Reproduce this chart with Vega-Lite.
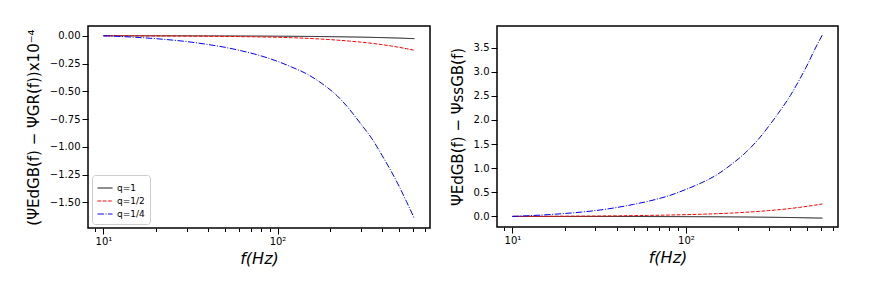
{
  "$schema": "https://vega.github.io/schema/vega-lite/v6.json",
  "padding": {"left": 25, "top": 25, "right": 5, "bottom": 5},
  "config": {
    "font": "DejaVu Sans",
    "view": {"stroke": "black", "strokeWidth": 1.5},
    "axis": {"domain": false, "grid": false, "tickColor": "black", "tickWidth": 1, "labelColor": "black", "labelFontSize": 10, "labelFont": "DejaVu Sans", "titleFont": "DejaVu Sans", "titleColor": "black", "titleFontWeight": "normal"}
  },
  "datasets": {
    "left": [
      {"f": 10, "q": "q=1", "v": 0}, {"f": 12, "q": "q=1", "v": -0.0001}, {"f": 15, "q": "q=1", "v": -0.0002}, {"f": 20, "q": "q=1", "v": -0.0004}, {"f": 25, "q": "q=1", "v": -0.0006}, {"f": 30, "q": "q=1", "v": -0.0008}, {"f": 40, "q": "q=1", "v": -0.0012}, {"f": 50, "q": "q=1", "v": -0.0016}, {"f": 60, "q": "q=1", "v": -0.002}, {"f": 70, "q": "q=1", "v": -0.0024}, {"f": 80, "q": "q=1", "v": -0.0028}, {"f": 100, "q": "q=1", "v": -0.0037}, {"f": 120, "q": "q=1", "v": -0.0045}, {"f": 150, "q": "q=1", "v": -0.0058}, {"f": 180, "q": "q=1", "v": -0.007}, {"f": 220, "q": "q=1", "v": -0.0088}, {"f": 260, "q": "q=1", "v": -0.0105}, {"f": 300, "q": "q=1", "v": -0.0122}, {"f": 350, "q": "q=1", "v": -0.0143}, {"f": 400, "q": "q=1", "v": -0.0165}, {"f": 450, "q": "q=1", "v": -0.0187}, {"f": 500, "q": "q=1", "v": -0.0208}, {"f": 550, "q": "q=1", "v": -0.0232}, {"f": 612, "q": "q=1", "v": -0.026},
      {"f": 10, "q": "q=1/2", "v": 0}, {"f": 12, "q": "q=1/2", "v": -0.0003}, {"f": 15, "q": "q=1/2", "v": -0.0008}, {"f": 20, "q": "q=1/2", "v": -0.0015}, {"f": 25, "q": "q=1/2", "v": -0.0022}, {"f": 30, "q": "q=1/2", "v": -0.003}, {"f": 40, "q": "q=1/2", "v": -0.0045}, {"f": 50, "q": "q=1/2", "v": -0.006}, {"f": 60, "q": "q=1/2", "v": -0.0074}, {"f": 70, "q": "q=1/2", "v": -0.0088}, {"f": 80, "q": "q=1/2", "v": -0.0103}, {"f": 100, "q": "q=1/2", "v": -0.0135}, {"f": 120, "q": "q=1/2", "v": -0.0172}, {"f": 150, "q": "q=1/2", "v": -0.0235}, {"f": 180, "q": "q=1/2", "v": -0.03}, {"f": 220, "q": "q=1/2", "v": -0.039}, {"f": 260, "q": "q=1/2", "v": -0.048}, {"f": 300, "q": "q=1/2", "v": -0.057}, {"f": 350, "q": "q=1/2", "v": -0.068}, {"f": 400, "q": "q=1/2", "v": -0.08}, {"f": 450, "q": "q=1/2", "v": -0.092}, {"f": 500, "q": "q=1/2", "v": -0.104}, {"f": 550, "q": "q=1/2", "v": -0.116}, {"f": 612, "q": "q=1/2", "v": -0.13},
      {"f": 10, "q": "q=1/4", "v": 0}, {"f": 12, "q": "q=1/4", "v": -0.005}, {"f": 15, "q": "q=1/4", "v": -0.013}, {"f": 20, "q": "q=1/4", "v": -0.026}, {"f": 25, "q": "q=1/4", "v": -0.039}, {"f": 30, "q": "q=1/4", "v": -0.052}, {"f": 40, "q": "q=1/4", "v": -0.079}, {"f": 50, "q": "q=1/4", "v": -0.104}, {"f": 60, "q": "q=1/4", "v": -0.13}, {"f": 70, "q": "q=1/4", "v": -0.155}, {"f": 80, "q": "q=1/4", "v": -0.18}, {"f": 100, "q": "q=1/4", "v": -0.23}, {"f": 120, "q": "q=1/4", "v": -0.28}, {"f": 150, "q": "q=1/4", "v": -0.35}, {"f": 180, "q": "q=1/4", "v": -0.43}, {"f": 220, "q": "q=1/4", "v": -0.54}, {"f": 260, "q": "q=1/4", "v": -0.665}, {"f": 300, "q": "q=1/4", "v": -0.79}, {"f": 350, "q": "q=1/4", "v": -0.93}, {"f": 400, "q": "q=1/4", "v": -1.08}, {"f": 450, "q": "q=1/4", "v": -1.22}, {"f": 500, "q": "q=1/4", "v": -1.355}, {"f": 550, "q": "q=1/4", "v": -1.49}, {"f": 612, "q": "q=1/4", "v": -1.645}
    ],
    "right": [
      {"f": 10, "q": "q=1", "v": 0}, {"f": 12, "q": "q=1", "v": -0.0001}, {"f": 15, "q": "q=1", "v": -0.0003}, {"f": 20, "q": "q=1", "v": -0.0006}, {"f": 25, "q": "q=1", "v": -0.0009}, {"f": 30, "q": "q=1", "v": -0.0012}, {"f": 40, "q": "q=1", "v": -0.0018}, {"f": 50, "q": "q=1", "v": -0.0024}, {"f": 60, "q": "q=1", "v": -0.003}, {"f": 70, "q": "q=1", "v": -0.0036}, {"f": 80, "q": "q=1", "v": -0.0042}, {"f": 100, "q": "q=1", "v": -0.0054}, {"f": 120, "q": "q=1", "v": -0.0066}, {"f": 150, "q": "q=1", "v": -0.0084}, {"f": 180, "q": "q=1", "v": -0.0102}, {"f": 220, "q": "q=1", "v": -0.0126}, {"f": 260, "q": "q=1", "v": -0.015}, {"f": 300, "q": "q=1", "v": -0.0174}, {"f": 350, "q": "q=1", "v": -0.0204}, {"f": 400, "q": "q=1", "v": -0.0234}, {"f": 450, "q": "q=1", "v": -0.0264}, {"f": 500, "q": "q=1", "v": -0.0294}, {"f": 550, "q": "q=1", "v": -0.0324}, {"f": 612, "q": "q=1", "v": -0.035},
      {"f": 10, "q": "q=1/2", "v": 0}, {"f": 12, "q": "q=1/2", "v": 0.001}, {"f": 15, "q": "q=1/2", "v": 0.002}, {"f": 20, "q": "q=1/2", "v": 0.004}, {"f": 25, "q": "q=1/2", "v": 0.006}, {"f": 30, "q": "q=1/2", "v": 0.008}, {"f": 40, "q": "q=1/2", "v": 0.012}, {"f": 50, "q": "q=1/2", "v": 0.016}, {"f": 60, "q": "q=1/2", "v": 0.02}, {"f": 70, "q": "q=1/2", "v": 0.024}, {"f": 80, "q": "q=1/2", "v": 0.028}, {"f": 100, "q": "q=1/2", "v": 0.036}, {"f": 120, "q": "q=1/2", "v": 0.044}, {"f": 150, "q": "q=1/2", "v": 0.056}, {"f": 180, "q": "q=1/2", "v": 0.068}, {"f": 220, "q": "q=1/2", "v": 0.085}, {"f": 260, "q": "q=1/2", "v": 0.103}, {"f": 300, "q": "q=1/2", "v": 0.12}, {"f": 350, "q": "q=1/2", "v": 0.142}, {"f": 400, "q": "q=1/2", "v": 0.164}, {"f": 450, "q": "q=1/2", "v": 0.187}, {"f": 500, "q": "q=1/2", "v": 0.21}, {"f": 550, "q": "q=1/2", "v": 0.232}, {"f": 612, "q": "q=1/2", "v": 0.258},
      {"f": 10, "q": "q=1/4", "v": 0}, {"f": 12, "q": "q=1/4", "v": 0.012}, {"f": 15, "q": "q=1/4", "v": 0.03}, {"f": 20, "q": "q=1/4", "v": 0.06}, {"f": 25, "q": "q=1/4", "v": 0.09}, {"f": 30, "q": "q=1/4", "v": 0.12}, {"f": 40, "q": "q=1/4", "v": 0.185}, {"f": 50, "q": "q=1/4", "v": 0.25}, {"f": 60, "q": "q=1/4", "v": 0.31}, {"f": 70, "q": "q=1/4", "v": 0.37}, {"f": 80, "q": "q=1/4", "v": 0.43}, {"f": 100, "q": "q=1/4", "v": 0.56}, {"f": 120, "q": "q=1/4", "v": 0.68}, {"f": 150, "q": "q=1/4", "v": 0.86}, {"f": 180, "q": "q=1/4", "v": 1.06}, {"f": 220, "q": "q=1/4", "v": 1.32}, {"f": 260, "q": "q=1/4", "v": 1.59}, {"f": 300, "q": "q=1/4", "v": 1.87}, {"f": 350, "q": "q=1/4", "v": 2.2}, {"f": 400, "q": "q=1/4", "v": 2.51}, {"f": 450, "q": "q=1/4", "v": 2.83}, {"f": 500, "q": "q=1/4", "v": 3.14}, {"f": 550, "q": "q=1/4", "v": 3.45}, {"f": 612, "q": "q=1/4", "v": 3.77}
    ]
  },
  "spacing": 18,
  "resolve": {"scale": {"color": "independent", "strokeDash": "independent", "y": "independent"}},
  "hconcat": [
    {
      "width": 342,
      "height": 202,
      "data": {"name": "left"},
      "layer": [
        {
          "mark": {"type": "line", "strokeWidth": 1, "clip": true, "interpolate": "monotone"},
          "encoding": {
            "x": {"field": "f", "type": "quantitative", "scale": {"type": "log", "domain": [8.15, 752], "nice": false},
              "axis": {"orient": "bottom", "values": [10, 100], "labelExpr": "datum.value == 10 ? '10¹' : '10²'", "tickSize": 6, "labelPadding": 2, "title": "f(Hz)", "titleFontSize": 16, "titleFontStyle": "italic", "titlePadding": 4}},
            "y": {"field": "v", "type": "quantitative", "scale": {"domain": [-1.73, 0.088], "nice": false, "zero": false},
              "axis": {"values": [0, -0.25, -0.5, -0.75, -1, -1.25, -1.5], "format": ".2f", "labelOverlap": false, "tickSize": 6, "labelPadding": 2, "title": "(ΨEdGB(f) − ΨGR(f))x10⁻⁴", "titleFontSize": 15, "titlePadding": 8}},
            "color": {"field": "q", "type": "nominal", "scale": {"domain": ["q=1", "q=1/2", "q=1/4"], "range": ["#000000", "#ff0000", "#0000ff"]},
              "legend": {"title": null, "orient": "bottom-left", "offset": 4, "symbolType": "stroke", "symbolSize": 225, "symbolStrokeWidth": 1, "labelFontSize": 9, "labelColor": "black", "rowPadding": 0, "padding": 5, "strokeColor": "#cccccc", "fillColor": "white", "cornerRadius": 3}},
            "strokeDash": {"field": "q", "type": "nominal", "scale": {"domain": ["q=1", "q=1/2", "q=1/4"], "range": [[1, 0], [3.7, 1.6], [6.4, 1.6, 1, 1.6]]},
              "legend": {"title": null, "orient": "bottom-left", "offset": 4, "symbolType": "stroke", "symbolSize": 225, "symbolStrokeWidth": 1, "labelFontSize": 9, "labelColor": "black", "rowPadding": 0, "padding": 5, "strokeColor": "#cccccc", "fillColor": "white", "cornerRadius": 3}}
          }
        },
        {
          "mark": {"type": "rule", "opacity": 0},
          "encoding": {
            "x": {"field": "f", "type": "quantitative", "axis": {"orient": "bottom", "values": [9, 20, 30, 40, 50, 60, 70, 80, 90, 200, 300, 400, 500, 600, 700], "labels": false, "tickSize": 3.5, "title": null}}
          }
        }
      ],
      "resolve": {"axis": {"x": "independent"}}
    },
    {
      "width": 341,
      "height": 201,
      "data": {"name": "right"},
      "layer": [
        {
          "mark": {"type": "line", "strokeWidth": 1, "clip": true, "interpolate": "monotone"},
          "encoding": {
            "x": {"field": "f", "type": "quantitative", "scale": {"type": "log", "domain": [8.15, 752], "nice": false},
              "axis": {"orient": "bottom", "values": [10, 100], "labelExpr": "datum.value == 10 ? '10¹' : '10²'", "tickSize": 6, "labelPadding": 2, "title": "f(Hz)", "titleFontSize": 16, "titleFontStyle": "italic", "titlePadding": 4}},
            "y": {"field": "v", "type": "quantitative", "scale": {"domain": [-0.22, 3.95], "nice": false, "zero": false},
              "axis": {"values": [0, 0.5, 1, 1.5, 2, 2.5, 3, 3.5], "format": ".1f", "labelOverlap": false, "tickSize": 6, "labelPadding": 2, "title": "ΨEdGB(f) − ΨssGB(f)", "titleFontSize": 15, "titlePadding": 8}},
            "color": {"field": "q", "type": "nominal", "scale": {"domain": ["q=1", "q=1/2", "q=1/4"], "range": ["#000000", "#ff0000", "#0000ff"]}, "legend": null},
            "strokeDash": {"field": "q", "type": "nominal", "scale": {"domain": ["q=1", "q=1/2", "q=1/4"], "range": [[1, 0], [3.7, 1.6], [6.4, 1.6, 1, 1.6]]}, "legend": null}
          }
        },
        {
          "mark": {"type": "rule", "opacity": 0},
          "encoding": {
            "x": {"field": "f", "type": "quantitative", "axis": {"orient": "bottom", "values": [9, 20, 30, 40, 50, 60, 70, 80, 90, 200, 300, 400, 500, 600, 700], "labels": false, "tickSize": 3.5, "title": null}}
          }
        }
      ],
      "resolve": {"axis": {"x": "independent"}}
    }
  ]
}
